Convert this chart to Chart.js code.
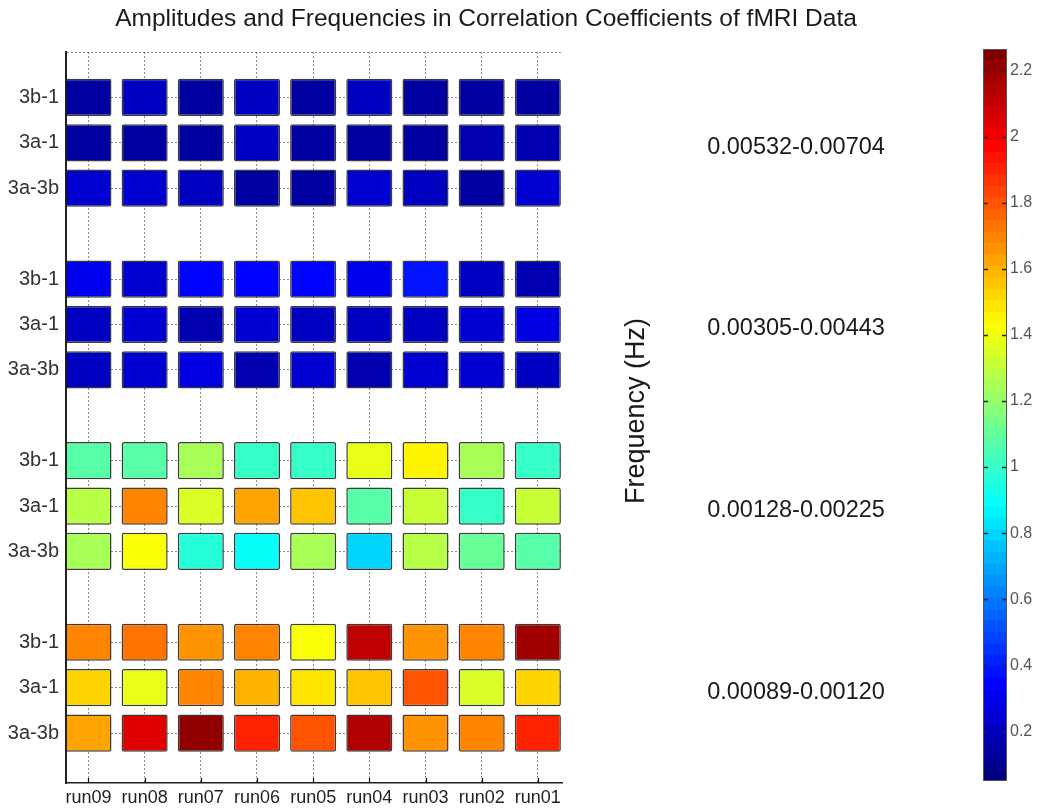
<!DOCTYPE html>
<html><head><meta charset="utf-8">
<script src="https://cdn.jsdelivr.net/npm/chart.js@4.4.1/dist/chart.umd.min.js"></script>
<style>
html,body{margin:0;padding:0;background:#fff;width:1039px;height:810px;overflow:hidden;}
#main{position:absolute;left:0;top:0;}
#cbar{position:absolute;left:940px;top:0;}
</style></head><body>
<canvas id="main" width="1039" height="810"></canvas>
<canvas id="cbar" width="99" height="810"></canvas>
<script>
// ---------- data ----------
const titleText = 'Amplitudes and Frequencies in Correlation Coefficients of fMRI Data';
const yTitle = 'Frequency (Hz)';
const runs = ['run09','run08','run07','run06','run05','run04','run03','run02','run01'];
const pairs = ['3b-1','3a-1','3a-3b'];
const bands = ['0.00532-0.00704','0.00305-0.00443','0.00128-0.00225','0.00089-0.00120'];

// band 1: 0.00532-0.00704 Hz
const band1_3b1  = [0.12, 0.18, 0.12, 0.19, 0.12, 0.19, 0.12, 0.12, 0.11];
const band1_3a1  = [0.12, 0.12, 0.12, 0.18, 0.12, 0.11, 0.12, 0.17, 0.16];
const band1_3a3b = [0.22, 0.22, 0.18, 0.12, 0.12, 0.23, 0.18, 0.11, 0.22];
// band 2: 0.00305-0.00443 Hz
const band2_3b1  = [0.30, 0.24, 0.34, 0.34, 0.34, 0.30, 0.36, 0.20, 0.17];
const band2_3a1  = [0.19, 0.22, 0.17, 0.24, 0.20, 0.19, 0.19, 0.21, 0.27];
const band2_3a3b = [0.19, 0.22, 0.26, 0.14, 0.22, 0.15, 0.22, 0.22, 0.19];
// band 3: 0.00128-0.00225 Hz
const band3_3b1  = [1.08, 1.08, 1.23, 1.01, 0.99, 1.39, 1.44, 1.25, 1.01];
const band3_3a1  = [1.28, 1.69, 1.36, 1.63, 1.56, 1.06, 1.32, 0.99, 1.33];
const band3_3a3b = [1.25, 1.41, 0.97, 0.88, 1.25, 0.79, 1.28, 1.10, 1.08];
// band 4: 0.00089-0.00120 Hz
const band4_3b1  = [1.69, 1.74, 1.65, 1.70, 1.41, 2.13, 1.66, 1.70, 2.21];
const band4_3a1  = [1.54, 1.39, 1.70, 1.60, 1.48, 1.56, 1.80, 1.36, 1.54];
const band4_3a3b = [1.63, 2.07, 2.24, 1.91, 1.80, 2.16, 1.65, 1.70, 1.93];

const cbarTicks = [0.2, 0.4, 0.6, 0.8, 1.0, 1.2, 1.4, 1.6, 1.8, 2.0, 2.2];
const cMin = 0.05, cMax = 2.265;

// ---------- helpers ----------
const FONT = '"Liberation Sans", Arial, Helvetica, sans-serif';
function clamp(v){ return Math.max(0, Math.min(1, v)); }
function jet(v){
  let t = clamp((v - cMin) / (cMax - cMin));
  t = Math.round(t * 63) / 63;
  const r = clamp(1.5 - Math.abs(4*t - 3));
  const g = clamp(1.5 - Math.abs(4*t - 2));
  const b = clamp(1.5 - Math.abs(4*t - 1));
  return `rgb(${Math.round(r*255)},${Math.round(g*255)},${Math.round(b*255)})`;
}

const bandRows = [
  [band1_3b1, band1_3a1, band1_3a3b],
  [band2_3b1, band2_3a1, band2_3a3b],
  [band3_3b1, band3_3a1, band3_3a3b],
  [band4_3b1, band4_3a1, band4_3a3b]
];
const GROUP = 4; // rows per band block (3 rows + 1 spacer)
const HALF = 0.41; // half cell height in row units

const datasets = bandRows.flatMap((rows, g) => rows.map((vals, r) => {
  const pos = g * GROUP + r + 1;
  return {
    label: bands[g] + ' ' + pairs[r],
    data: vals.map((v, i) => ({ x: i + 1, y: [pos - HALF, pos + HALF], amp: v })),
    backgroundColor: vals.map(jet),
    borderColor: 'rgba(25,25,25,0.85)',
    borderWidth: 1.5,
    borderRadius: 2,
    borderSkipped: false,
    grouped: false,
    barPercentage: 1,
    categoryPercentage: 0.82
  };
}));

const yTickVals = [0];
for (let g = 0; g < bands.length; g++) for (let r = 0; r < pairs.length; r++) yTickVals.push(g*GROUP + r + 1);

const annot = {
  id: 'annot',
  afterDraw(chart) {
    const { ctx, scales: { x, y }, chartArea } = chart;
    ctx.save();
    ctx.strokeStyle = '#111';
    ctx.lineWidth = 1.2;
    x.ticks.forEach(t => {
      const px = Math.round(x.getPixelForValue(t.value)) + 0.5;
      ctx.beginPath();
      ctx.moveTo(px, chartArea.bottom);
      ctx.lineTo(px, chartArea.bottom - 5);
      ctx.stroke();
    });
    ctx.fillStyle = '#1a1a1a';
    ctx.textAlign = 'center';
    ctx.textBaseline = 'middle';
    ctx.font = '24.5px ' + FONT;
    ctx.fillText(titleText, 486, 19);
    ctx.font = '23.5px ' + FONT;
    bands.forEach((b, g) => ctx.fillText(b, 796, y.getPixelForValue(g*GROUP + 2.1)));
    ctx.translate(637, 411);
    ctx.rotate(-Math.PI / 2);
    ctx.font = '27px ' + FONT;
    ctx.fillText(yTitle, 0, 0);
    ctx.restore();
  }
};

new Chart(document.getElementById('main'), {
  type: 'bar',
  data: { datasets },
  options: {
    responsive: false,
    animation: false,
    layout: { padding: { left: 0, right: 477, top: 52, bottom: 0 } },
    plugins: { legend: { display: false }, tooltip: { enabled: false }, title: { display: false } },
    scales: {
      x: {
        type: 'linear', min: 0.6, max: 9.43, offset: false,
        afterBuildTicks: s => { s.ticks = runs.map((_, i) => ({ value: i + 1 })); },
        afterFit: s => { s.height = 27; },
        ticks: { autoSkip: false, maxRotation: 0, padding: 4, color: '#222',
                 font: { family: FONT, size: 18 },
                 callback: v => runs[v - 1] ?? '' },
        grid: { offset: false, color: 'rgba(0,0,0,0.45)', lineWidth: 1, drawTicks: false },
        border: { color: '#222', width: 1.5, dash: [2, 2] }
      },
      y: {
        type: 'linear', reverse: true, min: 0, max: 16.1, offset: false,
        afterBuildTicks: s => { s.ticks = yTickVals.map(v => ({ value: v })); },
        afterFit: s => { s.width = 66; },
        ticks: { autoSkip: false, padding: 7, color: '#333',
                 font: { family: FONT, size: 20 },
                 callback: v => { if (v <= 0) return ''; const r = (v - 1) % GROUP; return r < pairs.length ? pairs[r] : ''; } },
        grid: { offset: false, color: 'rgba(0,0,0,0.45)', lineWidth: 1, drawTicks: false },
        border: { color: '#222', width: 2, dash: [2, 2] }
      }
    }
  },
  plugins: [annot]
});

// ---------- colorbar ----------
const segN = 64;
const cbarSets = [];
for (let i = 0; i < segN; i++) {
  const lo = cMin + (cMax - cMin) * i / segN, hi = cMin + (cMax - cMin) * (i + 1) / segN;
  cbarSets.push({ data: [[lo, hi]], backgroundColor: jet((lo + hi) / 2), borderWidth: 0,
                  grouped: false, barPercentage: 1, categoryPercentage: 1 });
}
const cbarDeco = {
  id: 'cbarDeco',
  afterDatasetsDraw(chart) {
    const { ctx, chartArea: a, scales: { y } } = chart;
    ctx.save();
    ctx.strokeStyle = '#222';
    ctx.lineWidth = 1.3;
    y.ticks.forEach(t => {
      const py = Math.round(y.getPixelForValue(t.value)) + 0.5;
      ctx.beginPath();
      ctx.moveTo(a.left, py); ctx.lineTo(a.left + 5, py);
      ctx.moveTo(a.right - 5, py); ctx.lineTo(a.right, py);
      ctx.stroke();
    });
    ctx.strokeStyle = '#555';
    ctx.lineWidth = 1;
    ctx.strokeRect(a.left + 0.5, a.top + 0.5, a.width - 1, a.height - 1);
    ctx.restore();
  }
};
new Chart(document.getElementById('cbar'), {
  type: 'bar',
  data: { labels: [''], datasets: cbarSets },
  options: {
    responsive: false,
    animation: false,
    layout: { padding: { left: 43, right: 0, top: 49, bottom: 29 } },
    plugins: { legend: { display: false }, tooltip: { enabled: false } },
    scales: {
      x: { type: 'category', display: false },
      y: {
        type: 'linear', position: 'right', min: cMin, max: cMax,
        afterBuildTicks: s => { s.ticks = cbarTicks.map(v => ({ value: v })); },
        afterFit: s => { s.width = 32; },
        ticks: { padding: 3, color: '#555', font: { family: FONT, size: 16 },
                 callback: v => String(+Number(v).toFixed(1)) },
        grid: { display: false, drawTicks: false },
        border: { display: false }
      }
    }
  },
  plugins: [cbarDeco]
});
</script></body></html>
